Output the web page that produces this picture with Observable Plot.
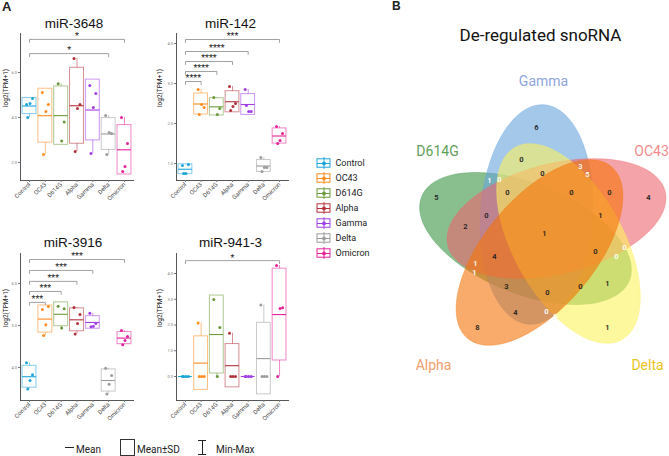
<!DOCTYPE html>
<html><head><meta charset="utf-8">
<script src="https://cdn.jsdelivr.net/npm/d3@7"></script>
<script src="https://cdn.jsdelivr.net/npm/@observablehq/plot@0.6"></script>
<style>
body{margin:0;background:#fff;}
#root{position:relative;width:669px;height:456px;overflow:hidden;background:#fff;font-family:Roboto,sans-serif;color:#222;}
.abs{position:absolute;}
.lbl{font-family:"Liberation Sans",Arial,sans-serif;font-weight:bold;}
.leg{font-family:Roboto,sans-serif;font-size:10px;color:#222;line-height:16px;}
</style></head><body><div id="root"></div>
<script>
// ---------- categories & colours ----------
const cats = ["Control","OC43","D614G","Alpha","Gamma","Delta","Omicron"];
const catColors = ["#1ba3db","#ff8b1c","#6a9a39","#b4313b","#a13ee6","#9c9c9c","#e6229a"];

// ---------- panel values: log2(TPM+1), one list per category ----------
const mir3648 = [[4.58,4.84,4.62,4.0],[5.11,4.58,4.27,2.36],[5.5,3.8,2.95],[6.62,4.58,4.4,2.49],[5.42,5.07,4.44,2.4],[4.09,3.29,3.33,2.36],[4.0,2.84,1.82,1.6]];
const mir142 = [[0.95,0.975,0.75,0.75],[2.85,2.4,2.475,2.225],[2.65,2.375,2.225],[2.925,2.5,2.425,2.325],[2.85,2.3,2.3,2.45],[1.15,0.9,0.9,0.8],[1.925,1.75,1.575,1.5]];
const mir3916 = [[4.11,3.83,3.69,3.49],[5.38,5.45,5.02,4.76],[5.46,5.40,4.94],[5.43,5.26,5.05,4.8],[5.29,5.05,4.98,4.97],[3.98,3.81,3.60,3.37],[4.88,4.74,4.64,4.54]];
const mir9413 = [[0,0,0,0],[2.08,0,0,0],[2.99,1.9,0],[1.68,0,0,0],[0,0,0,0],[2.78,0,0,0],[4.31,2.67,2.64,0]];

// ---------- y ticks ----------
const ticks3648 = [2,4,6];
const ticks142 = [1,2,3,4];
const ticks3916 = [4,5,6];
const ticks9413 = [0,1,2,3,4];

// ---------- significance brackets (Control vs target) ----------
const sig3648To = ["Omicron","Delta"];
const sig3648Y = [7.47,6.84];
const sig3648Label = ["*","*"];
const sig142To = ["OC43","D614G","Alpha","Gamma","Omicron"];
const sig142Y = [3.05,3.3,3.55,3.8,4.1];
const sig142Label = ["****","****","****","****","***"];
const sig3916To = ["OC43","D614G","Alpha","Gamma","Omicron"];
const sig3916Y = [5.55,5.81,6.05,6.31,6.57];
const sig3916Label = ["***","***","***","***","***"];
const sig9413To = ["Omicron"];
const sig9413Y = [4.5];
const sig9413Label = ["*"];

// ---------- Venn (5 sets) ----------
const vennSets = ["D614G","Gamma","OC43","Delta","Alpha"];
const vennFill = ["#3a9444","#67a3dc","#ed666e","#fcf25e","#f57308"];
const vennLabelColor = ["#5f9f5a","#8ea5e0","#f28b8b","#e8c31a","#f0a06a"];
const vennCx = [525,536,556,568,539];
const vennCy = [238,214,218,243,252];
const vennA = [112,110,112,110,112];
const vennB = [55,56,55,55,55];
const vennAngle = [22,-86,-14,61,-50];
const vennSetLabelX = [437,543,651,647,433];
const vennSetLabelY = [155,85,155,369,369];
const vennCounts = [6,0,0,3,5,1,0,0,0,0,5,4,0,1,2,1,4,0,0,0,1,1,3,0,0,1,4,0,0,8,1];
const vennCountX = [536,521,542,580,587,489,499,507,571,609,436,648,486,600,465,544,494,595,624,616,475,474,506,547,580,607,515,546,555,477,607];
const vennCountY = [127,159,173,166,174,180,179,192,192,192,197,197,215,215,226,233,256,251,247,256,263,272,286,292,286,283,312,311,316,327,327];
const vennCountWhite = [3,4,5,6,18,19,20,21,27,28];

const root = document.getElementById("root");
function place(node, left, top){ node.classList.add("abs"); node.style.left=left+"px"; node.style.top=top+"px"; root.appendChild(node); return node; }

const JIT = [-3, 3, 0.5, -1.8]; // px jitter pattern
function panel(o){
  const pts = [];
  o.values.forEach((arr,i)=>arr.forEach((v,k)=>pts.push({i,v,k,c:cats[i]})));
  const stats = o.values.map((arr,i)=>{const m=d3.mean(arr), s=d3.deviation(arr)||0; return {i,c:cats[i],m,lo:m-s,hi:m+s,min:d3.min(arr),max:d3.max(arr)};});
  const frameH = o.height - o.mt - o.mb;
  const tl = 3*(o.yDomain[1]-o.yDomain[0])/frameH;
  const sig = o.sigTo.map((t,j)=>({j,to:cats.indexOf(t),y:o.sigY[j],label:o.sigLabel[j]}));
  const br = [];
  sig.forEach(s=>{br.push({j:s.j,x:0,y:s.y-tl},{j:s.j,x:0,y:s.y},{j:s.j,x:s.to,y:s.y},{j:s.j,x:s.to,y:s.y-tl});});
  const step = (o.width-o.ml-o.mr)/7.14;
  const hw = 0.44;
  const svg = Plot.plot({
    width:o.width, height:o.height, marginLeft:o.ml, marginRight:o.mr, marginTop:o.mt, marginBottom:o.mb,
    style:{fontFamily:"Roboto, sans-serif", background:"transparent", overflow:"visible", color:"#333"},
    x:{domain:[-0.57,6.57], axis:null},
    y:{domain:o.yDomain, axis:null},
    color:{domain:cats, range:catColors},
    marks:[
      Plot.line(br,{x:"x",y:"y",z:"j",stroke:"#8a8a8a",strokeWidth:0.8}),
      Plot.text(sig,{x:s=>s.to/2,y:"y",text:"label",fontSize:9,dy:-3,fill:"#222"}),
      Plot.ruleX(stats,{x:"i",y1:"min",y2:"max",stroke:"c",strokeWidth:0.9,strokeOpacity:0.6}),
      Plot.rect(stats.filter(s=>s.hi>s.lo),{x1:s=>s.i-hw,x2:s=>s.i+hw,y1:"lo",y2:"hi",fill:"white",stroke:"c",strokeOpacity:0.55,strokeWidth:1}),
      Plot.ruleY(stats,{y:"m",x1:s=>s.i-hw,x2:s=>s.i+hw,stroke:"c",strokeWidth:1.1}),
      Plot.dot(pts,{x:d=>d.i+JIT[d.k]/step,y:"v",r:1.5,fill:"c"}),
      Plot.frame({anchor:"left",stroke:"#444",strokeWidth:0.9}),
      Plot.frame({anchor:"bottom",stroke:"#444",strokeWidth:0.9}),
      Plot.axisY({ticks:o.yTicks,tickSize:2,tickPadding:1.5,fontSize:4,fill:"#777",stroke:"#777",label:null}),
      Plot.axisX({ticks:d3.range(7),tickFormat:i=>cats[i],tickRotate:-45,tickSize:2,tickPadding:1,fontSize:6,fill:"#444",stroke:"#777",label:null}),
      Plot.text(["log2(TPM+1)"],{frameAnchor:"left",rotate:-90,dx:o.labelDx,fontSize:6.5,fill:"#222"}),
      Plot.text([o.title],{frameAnchor:"top",dx:o.titleDx,dy:o.titleDy,fontSize:13.5,fontFamily:"Liberation Sans, Arial, sans-serif",fill:"#111"})
    ]
  });
  place(svg,o.left,o.top);
}

panel({title:"miR-3648",values:mir3648,yDomain:[1.2,7.733],yTicks:ticks3648,sigTo:sig3648To,sigY:sig3648Y,sigLabel:sig3648Label,
  left:0,top:0,width:150,height:210,ml:20,mr:17,mt:33,mb:30,titleDx:-3,titleDy:-15,labelDx:-15});
panel({title:"miR-142",values:mir142,yDomain:[0.575,4.25],yTicks:ticks142,sigTo:sig142To,sigY:sig142Y,sigLabel:sig142Label,
  left:150,top:0,width:150,height:210,ml:26,mr:12,mt:33,mb:30,titleDx:-2,titleDy:-15,labelDx:-17});
panel({title:"miR-3916",values:mir3916,yDomain:[3.214,6.714],yTicks:ticks3916,sigTo:sig3916To,sigY:sig3916Y,sigLabel:sig3916Label,
  left:0,top:220,width:150,height:210,ml:20,mr:17,mt:33,mb:30,titleDx:-4,titleDy:-16.5,labelDx:-15});
panel({title:"miR-941-3",values:mir9413,yDomain:[-0.932,4.777],yTicks:ticks9413,sigTo:sig9413To,sigY:sig9413Y,sigLabel:sig9413Label,
  left:150,top:220,width:150,height:210,ml:26,mr:12,mt:33,mb:30,titleDx:-2,titleDy:-16.5,labelDx:-17});

// ---------- category legend ----------
const legSvg = Plot.plot({
  width:75,height:125,margin:0,
  style:{fontFamily:"Roboto, sans-serif",background:"transparent",overflow:"visible"},
  x:{domain:[0,75],range:[0,75],axis:null},
  y:{domain:[0,6],range:[13,103],axis:null},
  color:{domain:cats,range:catColors},
  marks:[
    Plot.ruleX(cats,{x:23.5,y1:(d,i)=>i-0.4,y2:(d,i)=>i+0.4,stroke:d=>d,strokeWidth:0.9}),
    Plot.rect(cats,{x1:17,x2:30,y1:(d,i)=>i-0.28,y2:(d,i)=>i+0.28,fill:"white",fillOpacity:0,stroke:d=>d,strokeWidth:1}),
    Plot.ruleY(cats,{y:(d,i)=>i,x1:17,x2:30,stroke:d=>d,strokeWidth:1}),
    Plot.dot(cats,{x:23.5,y:(d,i)=>i,r:1.9,fill:d=>d}),
    Plot.text(cats,{x:35,y:(d,i)=>i,text:d=>d,textAnchor:"start",fontSize:9,fill:"#222"})
  ]
});
place(legSvg,300,150);

// ---------- Venn ----------
const ell = vennSets.map((s,k)=>{
  const th = vennAngle[k]*Math.PI/180, pts=[];
  for(let d=0; d<360; d+=4){const t=d*Math.PI/180;
    pts.push({x:vennCx[k]+vennA[k]*Math.cos(t)*Math.cos(th)-vennB[k]*Math.sin(t)*Math.sin(th),
              y:vennCy[k]+vennA[k]*Math.cos(t)*Math.sin(th)+vennB[k]*Math.sin(t)*Math.cos(th)});}
  return pts;
});
const countRows = vennCounts.map((c,i)=>({c,x:vennCountX[i],y:vennCountY[i],w:vennCountWhite.includes(i)}));
const setRows = vennSets.map((s,k)=>({s,x:vennSetLabelX[k],y:vennSetLabelY[k],col:vennLabelColor[k]}));
const vennSvg = Plot.plot({
  width:289,height:456,margin:0,
  style:{fontFamily:"Roboto, sans-serif",background:"transparent",overflow:"visible"},
  x:{domain:[380,669],range:[0,289],axis:null},
  y:{domain:[0,456],range:[0,456],axis:null},
  marks:[
    ...ell.map((pts,k)=>Plot.line(pts,{x:"x",y:"y",curve:"linear-closed",fill:vennFill[k],fillOpacity:0.6,stroke:vennFill[k],strokeOpacity:0.45,strokeWidth:0.8})),
    Plot.text(countRows,{x:"x",y:"y",text:d=>String(d.c),fontSize:7.5,fontWeight:600,fill:d=>d.w?"#ffffff":"#222222"}),
    Plot.text(setRows,{x:"x",y:"y",text:"s",fontSize:14,fill:d=>d.col,lineAnchor:"bottom"}),
    Plot.text(["De-regulated snoRNA"],{x:()=>540,y:()=>40,fontSize:17,fill:"#111",lineAnchor:"bottom"})
  ]
});
place(vennSvg,380,0);

// ---------- panel letters ----------
const A = document.createElement("div"); A.className="lbl"; A.style.fontSize="13px"; A.textContent="A"; place(A,2,-1);
const B = document.createElement("div"); B.className="lbl"; B.style.fontSize="12px"; B.textContent="B"; place(B,392,-1);

// ---------- bottom legend ----------
function legItem(html,left,top){const d=document.createElement("div"); d.innerHTML=html; place(d,left,top); return d;}
legItem('<div style="width:9px;height:0;border-top:1px solid #222"></div>',65,447);
legItem('<span class="leg">Mean</span>',76,438);
legItem('<div style="width:13px;height:15px;border:1px solid #333"></div>',120,439);
legItem('<span class="leg">Mean±SD</span>',137,438);
legItem('<div style="position:relative;width:8px;height:15px"><div style="position:absolute;left:0;top:0;width:8px;border-top:1px solid #222"></div><div style="position:absolute;left:0;bottom:0;width:8px;border-top:1px solid #222"></div><div style="position:absolute;left:3.5px;top:0;height:15px;border-left:1px solid #222"></div></div>',198,440);
legItem('<span class="leg">Min-Max</span>',216,438);
</script></body></html>
